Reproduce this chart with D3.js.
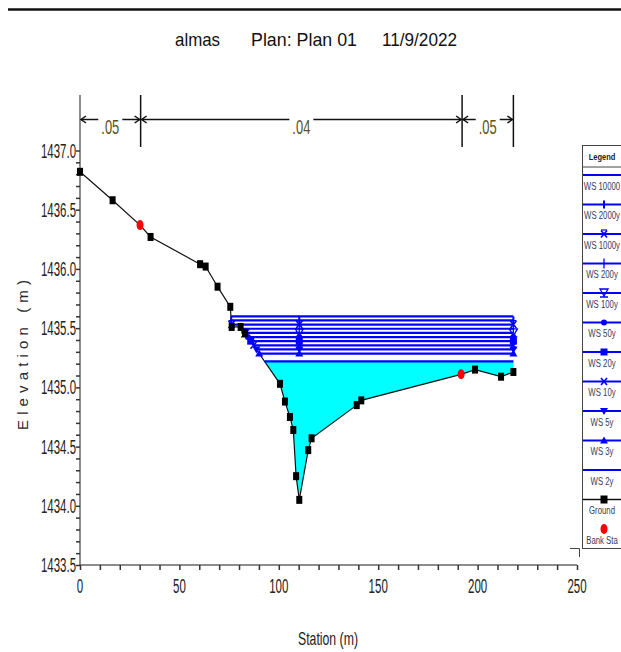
<!DOCTYPE html>
<html>
<head>
<meta charset="utf-8">
<script src="https://cdn.jsdelivr.net/npm/d3@7"></script>
<style>
  body { margin: 0; background: #fff; }
  svg { display: block; font-family: "Liberation Sans Narrow", "Liberation Sans", Arial, sans-serif; }
</style>
</head>
<body>
<svg id="chart" width="621" height="652"></svg>
<script>
// ── Data ──────────────────────────────────────────────────────────────────────
const stations = [0, 16.4, 30.2, 35.5, 60.4, 63.2, 69.2, 75.6, 76.3, 80.8, 83.0, 100.6, 103.1,
  105.6, 107.3, 108.7, 110.3, 114.8, 116.5, 139.2, 141.5, 191.7, 198.7, 211.8, 218.0];
const elevations = [1436.82, 1436.58, 1436.37, 1436.27, 1436.04, 1436.02, 1435.85, 1435.68,
  1435.51, 1435.51, 1435.46, 1435.03, 1434.88, 1434.75, 1434.64, 1434.25, 1434.05, 1434.47,
  1434.57, 1434.85, 1434.89, 1435.11, 1435.15, 1435.09, 1435.13];
const bankStations = [30.2, 191.7];
const bankElevations = [1436.37, 1435.11];

const profiles = ["WS 10000", "WS 2000y", "WS 1000y", "WS 200y", "WS 100y", "WS 50y",
  "WS 20y", "WS 10y", "WS 5y", "WS 3y", "WS 2y"];
const wsElevations = [1435.60, 1435.565, 1435.53, 1435.495, 1435.46, 1435.425, 1435.39,
  1435.355, 1435.32, 1435.285, 1435.22];
const profileSymbols = ["none", "tick", "xhat", "plus", "hourglass", "dot", "square", "x",
  "tridown", "triup", "none"];
const markerStation = 110.3;

const nBreaks = [0, 30.5, 192.2, 218.0];
const nValues = [".05", ".04", ".05"];

const xTickValues = [0, 50, 100, 150, 200, 250];
const yTickValues = [1433.5, 1434.0, 1434.5, 1435.0, 1435.5, 1436.0, 1436.5, 1437.0];

// ── Setup ─────────────────────────────────────────────────────────────────────
const svg = d3.select("#chart");
const x = d3.scaleLinear().domain([0, 250]).range([80, 577]);
const y = d3.scaleLinear().domain([1433.5, 1437]).range([565, 150.5]);
const BLUE = "#0000ff";
const AXIS = "#666";

// top rule
svg.append("line").attr("x1", 8).attr("x2", 621).attr("y1", 9.5).attr("y2", 9.5)
  .attr("stroke", "#111").attr("stroke-width", 2.5);

// title
[["almas", 175, 45], ["Plan: Plan 01", 251, 106], ["11/9/2022", 382, 75]].forEach(([t, x0, w]) => {
  svg.append("text").attr("x", x0).attr("y", 46).attr("font-size", 19).attr("fill", "#111")
    .attr("textLength", w).attr("lengthAdjust", "spacingAndGlyphs").text(t);
});

// ── Axes ──────────────────────────────────────────────────────────────────────
svg.append("line").attr("x1", 80).attr("x2", 80).attr("y1", 95).attr("y2", 565)
  .attr("stroke", AXIS).attr("stroke-width", 1.5);
svg.append("line").attr("x1", 80).attr("x2", 577).attr("y1", 565).attr("y2", 565)
  .attr("stroke", AXIS).attr("stroke-width", 1.5);

const yMinor = d3.range(0, 36).map((i) => 1433.5 + i * 0.1);
svg.append("g").attr("transform", "translate(80,0)")
  .call(d3.axisLeft(y).tickValues(yMinor).tickSize(4).tickFormat(""))
  .call((g) => g.select(".domain").remove())
  .call((g) => g.selectAll("line").attr("stroke", "#333").attr("stroke-width", 1.5));

const xMinor = d3.range(0, 26).map((i) => i * 10);
svg.append("g").attr("transform", "translate(0,565)")
  .call(d3.axisBottom(x).tickValues(xMinor).tickSize(5).tickFormat(""))
  .call((g) => g.select(".domain").remove())
  .call((g) => g.selectAll("line").attr("stroke", "#333").attr("stroke-width", 1.5));

// tall, narrow tick labels: small font stretched vertically
const labelWidth = (s) => s.replace(/\./g, "").length * 6.4 + (s.includes(".") ? 3 : 0);

svg.append("g").selectAll("text").data(yTickValues).join("text")
  .attr("transform", (d) => `translate(76,${y(d) + 7}) scale(1,1.7)`)
  .attr("text-anchor", "end").attr("font-size", 12).attr("fill", "#222")
  .attr("textLength", (d) => labelWidth(d.toFixed(1)))
  .attr("lengthAdjust", "spacingAndGlyphs")
  .text((d) => d.toFixed(1));

svg.append("g").selectAll("text").data(xTickValues).join("text")
  .attr("transform", (d) => `translate(${x(d)},593) scale(1,1.7)`)
  .attr("text-anchor", "middle").attr("font-size", 12).attr("fill", "#222")
  .attr("textLength", (d) => labelWidth(String(d)))
  .attr("lengthAdjust", "spacingAndGlyphs")
  .text((d) => d);

svg.append("text").attr("x", 328).attr("y", 645).attr("text-anchor", "middle")
  .attr("font-size", 19).attr("fill", "#222")
  .attr("textLength", 60).attr("lengthAdjust", "spacingAndGlyphs").text("Station (m)");

svg.append("text").attr("transform", "translate(27.5,355) rotate(-90)")
  .attr("text-anchor", "middle").attr("font-size", 15).attr("fill", "#2a2a2a")
  .attr("font-family", "Liberation Sans, Arial, sans-serif")
  .attr("textLength", 150).attr("lengthAdjust", "spacing").text("Elevation (m)");

// ── Manning's n bar ───────────────────────────────────────────────────────────
const nY = 119.5;
const nG = svg.append("g").attr("stroke", "#111").attr("stroke-width", 1.5).attr("fill", "none");
nBreaks.slice(1).forEach((s) => {
  nG.append("line").attr("x1", x(s)).attr("x2", x(s)).attr("y1", 95).attr("y2", 147);
});
nValues.forEach((v, i) => {
  const a = x(nBreaks[i]), b = x(nBreaks[i + 1]), m = (a + b) / 2;
  nG.append("line").attr("x1", a + 1).attr("x2", m - 12).attr("y1", nY).attr("y2", nY);
  nG.append("line").attr("x1", m + 12).attr("x2", b - 1).attr("y1", nY).attr("y2", nY);
  nG.append("path").attr("d", `M${a + 6},${nY - 3.5}L${a + 1},${nY}L${a + 6},${nY + 3.5}`);
  nG.append("path").attr("d", `M${b - 6},${nY - 3.5}L${b - 1},${nY}L${b - 6},${nY + 3.5}`);
  svg.append("text").attr("x", m).attr("y", 134).attr("text-anchor", "middle")
    .attr("font-size", 21).attr("fill", "#5e5018")
    .attr("textLength", 18).attr("lengthAdjust", "spacingAndGlyphs").text(v);
});

// ── Markers ───────────────────────────────────────────────────────────────────
function marker(g, type, cx, cy, color) {
  const s = g.append("g").attr("transform", `translate(${cx},${cy})`);
  if (type === "tick") {
    s.append("line").attr("y1", -4).attr("y2", 4).attr("stroke", color).attr("stroke-width", 2);
  } else if (type === "plus") {
    s.append("line").attr("y1", -5).attr("y2", 5).attr("stroke", color).attr("stroke-width", 1.3);
  } else if (type === "x" || type === "xhat") {
    s.append("path").attr("d", "M-3,-3.5L3,3.5M3,-3.5L-3,3.5")
      .attr("stroke", color).attr("stroke-width", 1.6);
    if (type === "xhat") s.append("line").attr("x1", -3).attr("x2", 3).attr("y1", -4).attr("y2", -4)
      .attr("stroke", color).attr("stroke-width", 1.2);
  } else if (type === "hourglass") {
    s.append("path").attr("d", "M-4,-4L4,-4L0,3Z M-4,4L4,4")
      .attr("stroke", color).attr("stroke-width", 1.3).attr("fill", "none");
  } else if (type === "dot") {
    s.append("circle").attr("r", 3).attr("fill", color);
  } else if (type === "square") {
    s.append("rect").attr("x", -3.5).attr("y", -3.5).attr("width", 7).attr("height", 7).attr("fill", color);
  } else if (type === "tridown") {
    s.append("path").attr("d", "M-4,-3L4,-3L0,4Z").attr("fill", color);
  } else if (type === "triup") {
    s.append("path").attr("d", "M-4,3L4,3L0,-4Z").attr("fill", color);
  }
}

// ── Water surfaces ────────────────────────────────────────────────────────────
const ground = stations.map((s, i) => ({ s, e: elevations[i] }));
function leftEdge(ws) {
  for (let i = 0; i < ground.length - 1; i++) {
    const p = ground[i], q = ground[i + 1];
    if (p.e >= ws && q.e < ws) return p.s + (p.e - ws) / (p.e - q.e) * (q.s - p.s);
  }
  return ground[0].s;
}
const endSta = stations[stations.length - 1];

// filled lowest profile
const wsLow = wsElevations[wsElevations.length - 1];
const xL = leftEdge(wsLow);
const fillPts = [{ s: xL, e: wsLow }, ...ground.filter((p) => p.s > xL)];
svg.append("path").datum(fillPts)
  .attr("d", d3.area().x((d) => x(d.s)).y0(y(wsLow)).y1((d) => y(d.e)))
  .attr("fill", "#00ffff");

// ground line
svg.append("path").datum(ground)
  .attr("d", d3.line().x((d) => x(d.s)).y((d) => y(d.e)))
  .attr("fill", "none").attr("stroke", "#111").attr("stroke-width", 1.2);

const wsG = svg.append("g");
wsElevations.forEach((ws, i) => {
  const a = leftEdge(ws);
  wsG.append("line").attr("x1", x(a)).attr("x2", x(endSta)).attr("y1", y(ws)).attr("y2", y(ws))
    .attr("stroke", BLUE).attr("stroke-width", 2.2);
  if (profileSymbols[i] !== "none") {
    [a, markerStation, endSta].forEach((s) => marker(wsG, profileSymbols[i], x(s), y(ws), BLUE));
  }
});

// ground markers
svg.append("g").selectAll("rect").data(ground.filter((p) => !bankStations.includes(p.s))).join("rect")
  .attr("x", (d) => x(d.s) - 3).attr("y", (d) => y(d.e) - 4)
  .attr("width", 6).attr("height", 8).attr("fill", "#000");

// bank stations
svg.append("g").selectAll("ellipse").data(bankStations).join("ellipse")
  .attr("cx", (d) => x(d)).attr("cy", (d, i) => y(bankElevations[i]))
  .attr("rx", 3.5).attr("ry", 5).attr("fill", "#ff0000");

// ── Legend ────────────────────────────────────────────────────────────────────
const lg = svg.append("g");
lg.append("rect").attr("x", 582.5).attr("y", 145.5).attr("width", 60).attr("height", 403)
  .attr("fill", "#fff").attr("stroke", "#444").attr("stroke-width", 1);
lg.append("line").attr("x1", 582.5).attr("x2", 621).attr("y1", 167).attr("y2", 167)
  .attr("stroke", "#444");
lg.append("text").attr("transform", "translate(602,160) scale(1,1.3)").attr("text-anchor", "middle")
  .attr("font-size", 7.5).attr("font-weight", "bold").attr("fill", "#222").text("Legend");
lg.append("path").attr("d", "M570,548.5H579.5V557").attr("fill", "none").attr("stroke", "#444");

const legendItems = [...profiles, "Ground", "Bank Sta"];
legendItems.forEach((name, i) => {
  const ly = 175 + i * 29.5;
  if (i < profiles.length) {
    lg.append("line").attr("x1", 583).attr("x2", 621).attr("y1", ly).attr("y2", ly)
      .attr("stroke", BLUE).attr("stroke-width", 2);
    marker(lg, profileSymbols[i], 604, ly, BLUE);
  } else if (name === "Ground") {
    lg.append("line").attr("x1", 583).attr("x2", 621).attr("y1", ly).attr("y2", ly)
      .attr("stroke", "#111").attr("stroke-width", 1.5);
    lg.append("rect").attr("x", 600.5).attr("y", ly - 4).attr("width", 7).attr("height", 8).attr("fill", "#000");
  } else {
    lg.append("ellipse").attr("cx", 604).attr("cy", ly).attr("rx", 3.5).attr("ry", 5).attr("fill", "#ff0000");
  }
  lg.append("text").attr("transform", `translate(602,${ly + 14.5}) scale(1,1.35)`)
    .attr("text-anchor", "middle").attr("font-size", 7.8).attr("fill", "#3a3a5c").text(name);
});
</script>
</body>
</html>
